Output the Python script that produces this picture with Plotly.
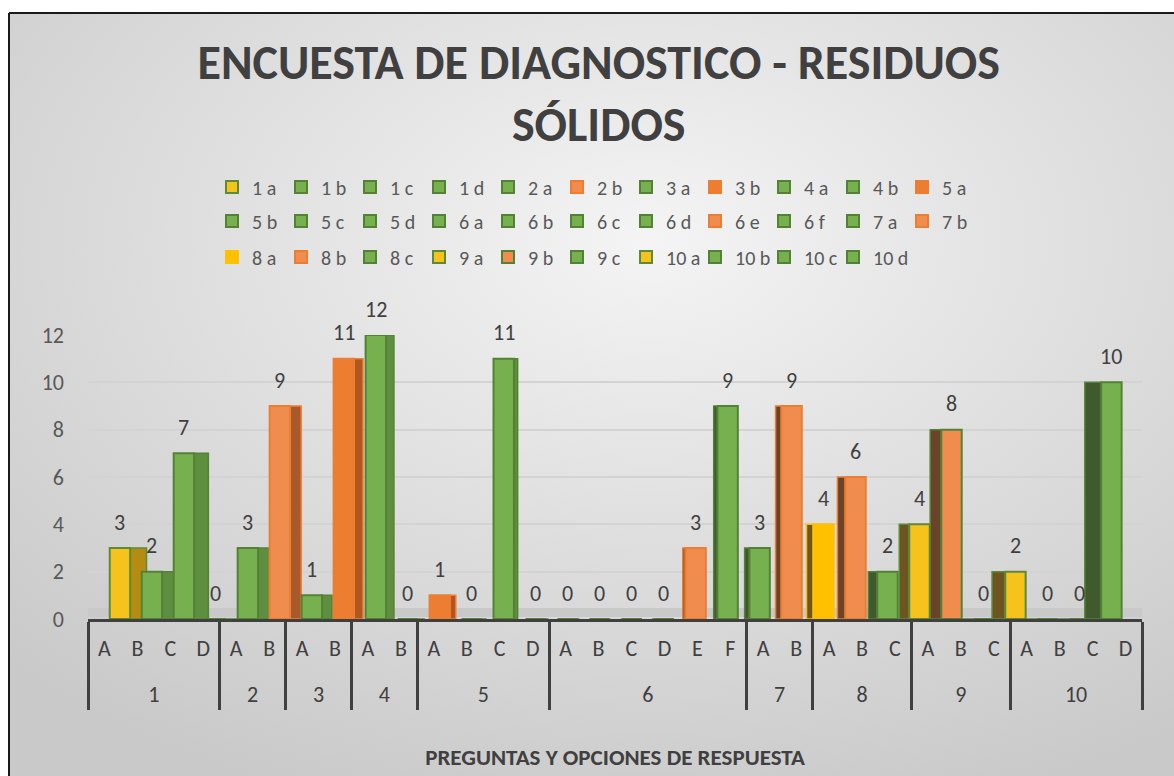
import base64
import plotly.graph_objects as go

# ---------------- data ----------------
groups = ["1"] * 4 + ["2"] * 2 + ["3"] * 2 + ["4"] * 2 + ["5"] * 4 + ["6"] * 6 + \
         ["7"] * 2 + ["8"] * 3 + ["9"] * 3 + ["10"] * 4
options = ["A", "B", "C", "D", "A", "B", "A", "B", "A", "B", "A", "B", "C", "D",
           "A", "B", "C", "D", "E", "F", "A", "B", "A", "B", "C", "A", "B", "C",
           "A", "B", "C", "D"]
values = [3, 2, 7, 0, 3, 9, 1, 11, 12, 0, 1, 0, 11, 0, 0, 0, 0, 0, 3, 9,
          3, 9, 4, 6, 2, 4, 8, 0, 2, 0, 0, 10]
series_names = [f"{g} {o.lower()}" for g, o in zip(groups, options)]

# ---------------- styles ----------------
kinds = ["Y", "G", "G", "G", "G", "LO", "G", "O", "G", "G", "O", "G", "G", "G",
         "G", "G", "G", "G", "LO", "G", "G", "LO", "Y2", "LO", "G", "Y", "LOG", "G",
         "Y", "G", "G", "G"]
STY = {
    "G":   dict(fill="#77B04F", line="#548235", lit="#5E8E3F", dark="#3F5B2E"),
    "Y":   dict(fill="#F6C31C", line="#5C8A36", lit="#B58C12", dark="#6E5520"),
    "Y2":  dict(fill="#FFC000", line="#FFC000", lit="#B58C12", dark="#6E5520"),
    "O":   dict(fill="#ED7D31", line="#ED7D31", lit="#B0571F", dark="#6E4020"),
    "LO":  dict(fill="#F08D4E", line="#ED7D31", lit="#A85A2C", dark="#6B4329"),
    "LOG": dict(fill="#F08D4E", line="#548235", lit="#A85A2C", dark="#6B4329"),
}

W, H = 1174, 776
L, R, T, B = 88, 32, 335, 157
PW, PH = W - L - R, H - T - B
FONT = "Carlito, Lato, Open Sans, sans-serif"
TXT = "#404040"
PAD = "<br><span style='font-size:7px'>\u00a0</span>"  # spacing line under option labels


def px2x(px):
    return (px - L) / PW


def py2y(py):
    return (H - B - py) / PH


n = len(values)
mid = (n - 1) / 2
FW = 0.62  # front face width (category units)

fig = go.Figure()
legend_of = ["legend"] * 11 + ["legend2"] * 11 + ["legend3"] * 10

for i, (g, o, v, name, k) in enumerate(zip(groups, options, values, series_names, kinds)):
    s = STY[k]
    xcat = [[g], [o + PAD]]
    shift = 0.47 - 0.029 * i
    sw = 0.032 * abs(i - mid)
    left_side = i < mid
    # side (3D depth) face
    if sw > 0.01:
        off = shift + FW / 2 if left_side else shift - FW / 2 - sw
        fig.add_trace(go.Bar(
            x=xcat, y=[v], offset=off, width=sw,
            marker=dict(color=s["lit"] if left_side else s["dark"],
                        line=dict(color=s["line"], width=1.5)),
            showlegend=False, hoverinfo="skip", legend=legend_of[i]))
    # front face
    fig.add_trace(go.Bar(
        x=xcat, y=[v], name=name, offset=shift - FW / 2, width=FW,
        marker=dict(color=s["fill"], line=dict(color=s["line"], width=2)),
        legend=legend_of[i]))
    fig.add_annotation(x=i + shift, y=v, xref="x", yref="y", text=str(v),
                       showarrow=False, yshift=26, yanchor="middle",
                       font=dict(family=FONT, size=22, color=TXT))

# invisible spacer entry so the last legend label of row 3 is not clipped
fig.add_trace(go.Bar(x=[[groups[-1]], [options[-1] + PAD]], y=[0], name="\u00a0",
                     legend="legend3", width=0.01,
                     marker=dict(color="rgba(0,0,0,0)", line=dict(width=0)),
                     hoverinfo="skip"))

# background gradient
svg = ('<svg xmlns="http://www.w3.org/2000/svg" width="1165" height="763">'
       '<defs><radialGradient id="g" cx="0.55" cy="0.3" r="0.78">'
       '<stop offset="0" stop-color="#F4F4F4"/><stop offset="1" stop-color="#C9C9C9"/>'
       '</radialGradient></defs><rect width="100%" height="100%" fill="url(#g)"/></svg>')
src = "data:image/svg+xml;base64," + base64.b64encode(svg.encode()).decode()

legend_common = dict(orientation="h", xref="paper", yref="paper", xanchor="left",
                     yanchor="middle", entrywidth=24, entrywidthmode="pixels",
                     bgcolor="rgba(0,0,0,0)", traceorder="normal",
                     font=dict(family=FONT, size=20, color="#595959"))

fig.update_layout(
    width=W, height=H,
    margin=dict(l=L, r=R, t=T, b=B, autoexpand=False),
    paper_bgcolor="white", plot_bgcolor="rgba(0,0,0,0)",
    barmode="overlay",
    title=dict(text="ENCUESTA DE DIAGNOSTICO - RESIDUOS<br>SÓLIDOS",
               x=0.51, xanchor="center", y=1 - 79 / H, yanchor="middle",
               font=dict(family=FONT, size=48, color=TXT, weight="bold")),
    legend=dict(x=px2x(212), y=py2y(187), **legend_common),
    legend2=dict(x=px2x(212), y=py2y(221), **legend_common),
    legend3=dict(x=px2x(212), y=py2y(257), **legend_common),
    xaxis=dict(type="multicategory", range=[-0.5, n - 0.5], showgrid=False,
               showline=True, linecolor=TXT, linewidth=3, ticks="",
               ticklabelstandoff=8,
               showdividers=True, dividercolor=TXT, dividerwidth=3,
               tickfont=dict(family=FONT, size=22, color=TXT),
               title=dict(text="PREGUNTAS Y OPCIONES DE RESPUESTA", standoff=42,
                          font=dict(family=FONT, size=23, color=TXT, weight="bold"))),
    yaxis=dict(range=[0, 12], dtick=2, showgrid=True, gridcolor="#D3D3D3",
               gridwidth=2, zeroline=False, showline=False,
               ticklabelstandoff=23,
               tickfont=dict(family=FONT, size=22, color="#595959")),
    images=[dict(source=src, xref="paper", yref="paper", x=px2x(9), y=py2y(13),
                 sizex=(W - 9) / PW, sizey=(H - 13) / PH, xanchor="left",
                 yanchor="top", sizing="stretch", layer="below")],
    shapes=[
        dict(type="rect", xref="paper", yref="paper", x0=0, x1=1,
             y0=py2y(617), y1=py2y(608), fillcolor="#C9C9C9", line=dict(width=0),
             layer="below"),
        dict(type="line", xref="paper", yref="paper", x0=px2x(9), x1=px2x(W),
             y0=py2y(13), y1=py2y(13), line=dict(color="#1A1A1A", width=2)),
        dict(type="line", xref="paper", yref="paper", x0=px2x(9), x1=px2x(9),
             y0=py2y(13), y1=py2y(H), line=dict(color="#1A1A1A", width=2)),
    ],
)

fig.write_html("out.html", config={"displayModeBar": False},
               post_script="document.body.style.margin='0px';")
